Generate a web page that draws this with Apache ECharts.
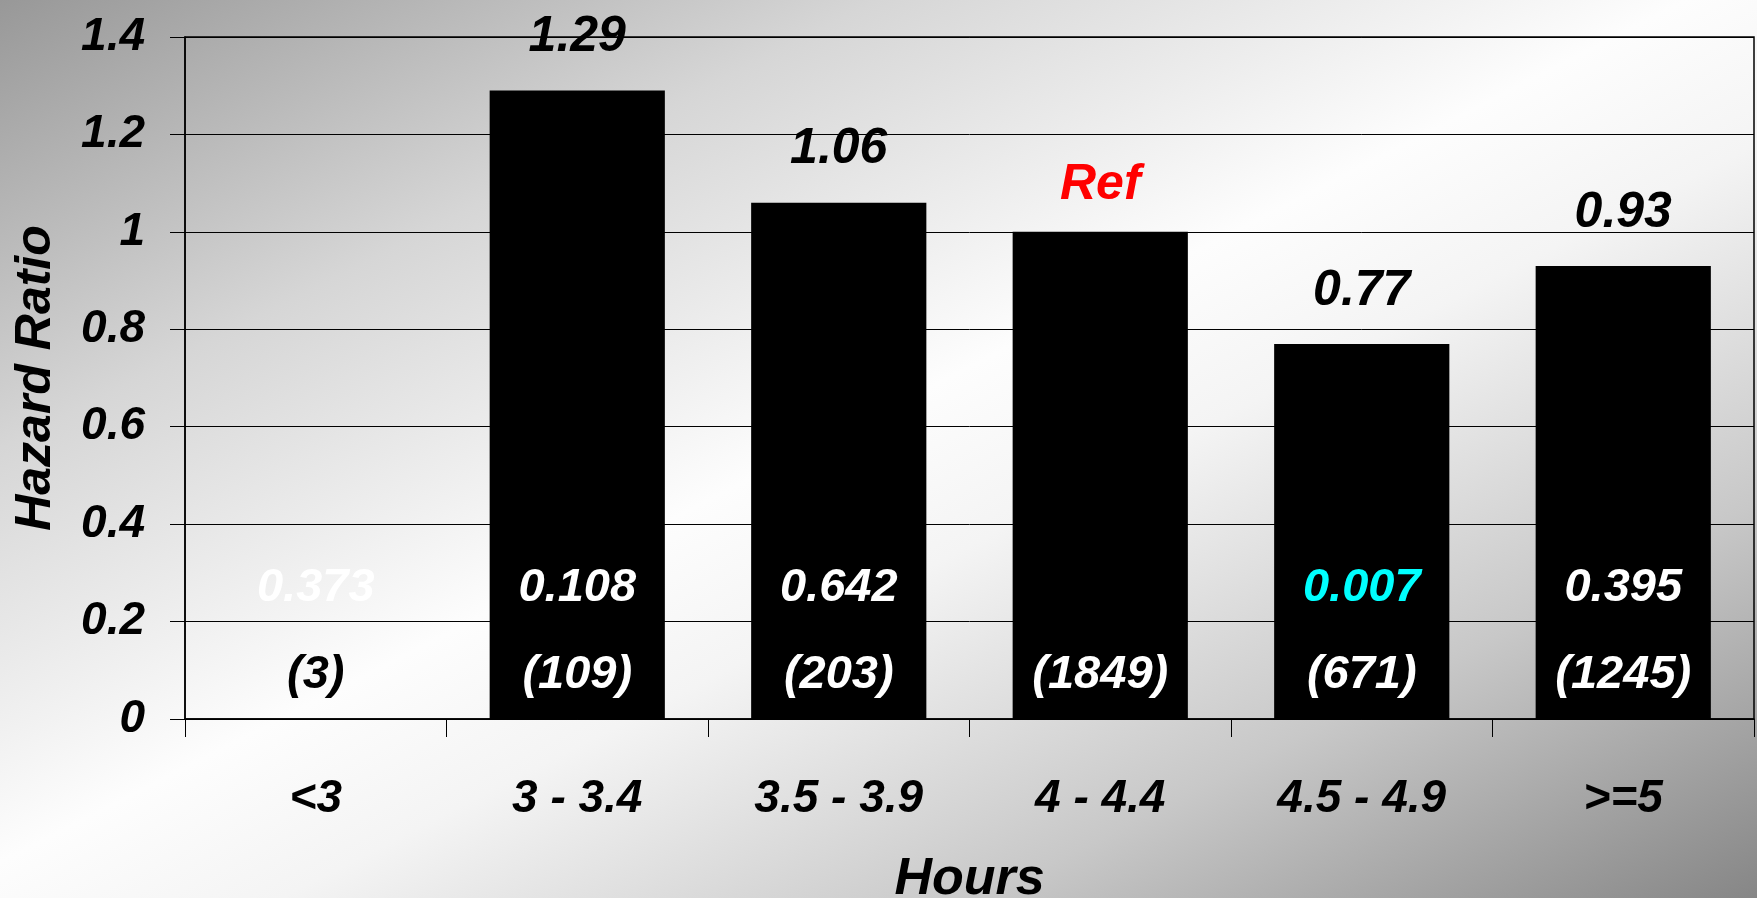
<!DOCTYPE html>
<html>
<head>
<meta charset="utf-8">
<script src="https://cdn.jsdelivr.net/npm/echarts@6/dist/echarts.min.js"></script>
<style>
  html, body { margin: 0; padding: 0; }
  #chart {
    width: 1757px;
    height: 898px;
    background: linear-gradient(to bottom right, #989898 0%, #d6d6d6 25%, #fdfdfd 48%, #f4f4f4 58%, #c8c8c8 78%, #868686 100%);
  }
</style>
</head>
<body>
<div id="chart"></div>
<script>
// Sleep duration groups (hours)
const categories = ['<3', '3 - 3.4', '3.5 - 3.9', '4 - 4.4', '4.5 - 4.9', '>=5'];
// Hazard ratio per group; the 4 - 4.4 group is the reference (1.0), <3 has no estimate
const hazardRatios = [null, 1.29, 1.06, 1.0, 0.77, 0.93];
const referenceIndex = 3;
// p-values printed inside the bars
const pValues = ['0.373', '0.108', '0.642', '', '0.007', '0.395'];
// number of subjects per group
const counts = ['(3)', '(109)', '(203)', '(1849)', '(671)', '(1245)'];
// y-axis range
const yMin = 0, yMax = 1.4, yStep = 0.2;

const FONT = '"Liberation Sans", Arial, sans-serif';
const pColors = ['#ffffff', '#ffffff', '#ffffff', '#ffffff', '#00ffff', '#ffffff'];
const countColors = ['#000000', '#ffffff', '#ffffff', '#ffffff', '#ffffff', '#ffffff'];

const chart = echarts.init(document.getElementById('chart'), null, { renderer: 'canvas' });

const textBase = { fontFamily: FONT, fontWeight: 'bold', fontStyle: 'italic', fontSize: 46 };
const valueText = Object.assign({}, textBase, { fontSize: 50 });

// bar data with the reference group labelled "Ref" in red
const barData = hazardRatios.map((v, i) => i === referenceIndex
  ? { value: v, label: { formatter: 'Ref', color: '#ff0000', distance: 22 } }
  : v);

chart.setOption({
  backgroundColor: 'transparent',
  animation: false,
  grid: {
    left: 185, right: 3, top: 37, bottom: 179,
    containLabel: false,
    outerBoundsMode: 'none',
    show: true, borderColor: '#000', borderWidth: 1.5, backgroundColor: 'transparent'
  },
  xAxis: {
    type: 'category',
    data: categories,
    axisLine: { lineStyle: { color: '#000', width: 1.5 } },
    axisTick: { show: true, alignWithLabel: false, length: 18, lineStyle: { color: '#000', width: 1 } },
    axisLabel: Object.assign({ color: '#000', margin: 57, interval: 0 }, textBase),
    name: 'Hours',
    nameLocation: 'middle',
    nameGap: 135,
    nameTextStyle: Object.assign({}, textBase, { color: '#000', fontSize: 52 })
  },
  yAxis: {
    type: 'value',
    min: yMin, max: yMax, interval: yStep,
    axisLine: { show: true, lineStyle: { color: '#000', width: 1.5 } },
    axisTick: { show: true, inside: false, length: 15, lineStyle: { color: '#000' } },
    splitLine: { show: true, lineStyle: { color: '#000', width: 1 } },
    axisLabel: Object.assign({ color: '#000', margin: 40 }, textBase),
    name: 'Hazard Ratio',
    nameLocation: 'middle',
    nameGap: 124,
    nameRotate: 90,
    nameTextStyle: Object.assign({}, textBase, { color: '#000', fontSize: 50 })
  },
  series: [
    {
      type: 'bar',
      data: barData,
      barCategoryGap: '33%',
      itemStyle: { color: '#000' },
      label: Object.assign({
        show: true,
        position: 'top',
        distance: 28,
        color: '#000'
      }, valueText),
      z: 2
    },
    {
      // p-value and group size printed near the base of each bar
      type: 'custom',
      data: categories.map((c, i) => [i, pValues[i], counts[i]]),
      z: 5,
      silent: true,
      renderItem: (params, api) => {
        const i = params.dataIndex;
        const base = api.coord([i, 0]);
        const style = (text, fill) => ({
          text: text, fill: fill,
          fontFamily: FONT, fontWeight: 'bold', fontStyle: 'italic', fontSize: 47,
          align: 'center', verticalAlign: 'middle'
        });
        return {
          type: 'group',
          children: [
            { type: 'text', x: base[0], y: base[1] - 131, style: style(pValues[i], pColors[i]) },
            { type: 'text', x: base[0], y: base[1] - 44, style: style(counts[i], countColors[i]) }
          ]
        };
      }
    }
  ]
});
</script>
</body>
</html>
